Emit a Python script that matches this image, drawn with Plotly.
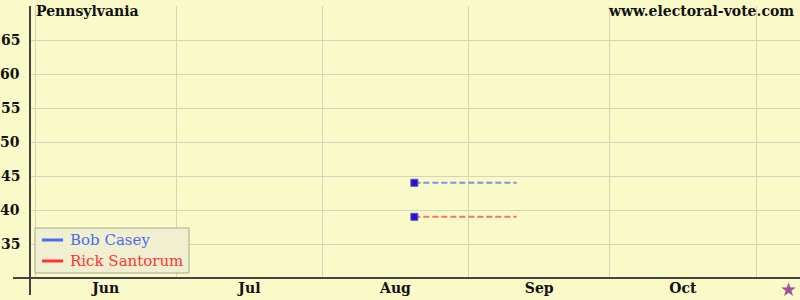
import plotly.graph_objects as go

# ---- data ----
candidates = ["Bob Casey", "Rick Santorum"]
poll_dates = ["2006-08-20 12:00", "2006-08-20 12:00"]
proj_end = ["2006-09-11 05:00", "2006-09-11 05:00"]
values = [44, 39]
line_colors = ["#7f90e4", "#f0766a"]
legend_colors = ["#4a6cf0", "#ff3333"]
month_labels = ["Jun", "Jul", "Aug", "Sep", "Oct"]
month_label_pos = ["2006-06-16", "2006-07-16 12:00", "2006-08-16 12:00", "2006-09-16", "2006-10-16 12:00"]
month_starts = ["2006-06-01", "2006-07-01", "2006-08-01", "2006-09-01", "2006-10-01", "2006-11-01"]
y_ticks = [35, 40, 45, 50, 55, 60, 65]
election_day = "2006-11-08"
x_range = ["2006-05-30 22:30", "2006-11-10 08:05"]
y_range = [30, 70]

BG = "#FAFAC8"
FONT = "DejaVu Serif"
W_PLOT, H_PLOT, L, B = 770.0, 272.0, 30.0, 278.0


def px(xp):
    return (xp - L) / W_PLOT


def py(yp):
    return (B - yp) / H_PLOT


fig = go.Figure()

for name, d0, d1, v, lc in zip(candidates, poll_dates, proj_end, values, line_colors):
    fig.add_trace(go.Scatter(
        x=[d0, d1], y=[v, v], mode="lines",
        line=dict(color=lc, width=2, dash="6px,3px"),
        showlegend=False, hoverinfo="skip"))
    fig.add_trace(go.Scatter(
        x=[d0], y=[v], mode="markers",
        marker=dict(symbol="square", size=7, color="#2a0ae0",
                    line=dict(color="#5a5a9a", width=1)),
        showlegend=False))

shapes = [
    dict(type="line", xref="paper", yref="paper",
         x0=px(13), x1=1, y0=0, y1=0,
         line=dict(color="#444440", width=2)),
    dict(type="line", xref="paper", yref="paper",
         x0=0, x1=0, y0=py(295), y1=1,
         line=dict(color="#444440", width=2)),
    # legend box
    dict(type="rect", xref="paper", yref="paper",
         x0=px(35), x1=px(189), y0=py(273), y1=py(228),
         fillcolor="#f0f0d0", line=dict(color="#a8a890", width=1)),
]
annotations = [
    dict(text="Pennsylvania", xref="paper", yref="paper",
         x=px(34), y=py(11), xanchor="left", yanchor="middle",
         showarrow=False, font=dict(family=FONT, size=14, weight="bold", color="#111111")),
    dict(text="www.electoral-vote.com", xref="paper", yref="paper",
         x=px(796), y=py(11), xanchor="right", yanchor="middle",
         showarrow=False, font=dict(family=FONT, size=14, weight="bold", color="#111111")),
    dict(text="★", xref="x", yref="paper", x=election_day, y=py(289),
         xanchor="center", yanchor="middle", showarrow=False,
         font=dict(family="DejaVu Sans", size=19, color="#a050a0")),
]
# y tick labels
for t in y_ticks:
    annotations.append(dict(text=str(t), xref="paper", yref="y",
                            x=px(22), y=t, xanchor="right", yanchor="middle",
                            showarrow=False,
                            font=dict(family=FONT, size=14, weight="bold", color="#111111")))
for i, (name, c) in enumerate(zip(candidates, legend_colors)):
    yy = py(240 + 21 * i)
    shapes.append(dict(type="line", xref="paper", yref="paper",
                       x0=px(42), x1=px(63), y0=yy, y1=yy,
                       line=dict(color=c, width=3)))
    annotations.append(dict(text=name, xref="paper", yref="paper",
                            x=px(68), y=yy, xanchor="left", yanchor="middle",
                            showarrow=False,
                            font=dict(family=FONT, size=15, color=c)))

fig.update_layout(
    width=800, height=300,
    margin=dict(l=30, r=0, t=6, b=22),
    paper_bgcolor=BG, plot_bgcolor=BG,
    font=dict(family=FONT, size=14, color="#111111"),
    showlegend=False,
    xaxis=dict(range=x_range, type="date",
               tickvals=month_label_pos, ticktext=month_labels,
               tickfont=dict(family=FONT, size=14, weight="bold", color="#111111"),
               ticks="",
               showgrid=False, zeroline=False, showline=False,
               minor=dict(tickvals=month_starts, showgrid=True,
                          gridcolor="#d4d4bc", gridwidth=1, ticks="")),
    yaxis=dict(range=y_range, tickvals=y_ticks, showticklabels=False,
               ticks="",
               showgrid=True, gridcolor="#d4d4bc", gridwidth=1,
               zeroline=False, showline=False),
    shapes=shapes,
    annotations=annotations,
)

fig.write_html("out.html")
